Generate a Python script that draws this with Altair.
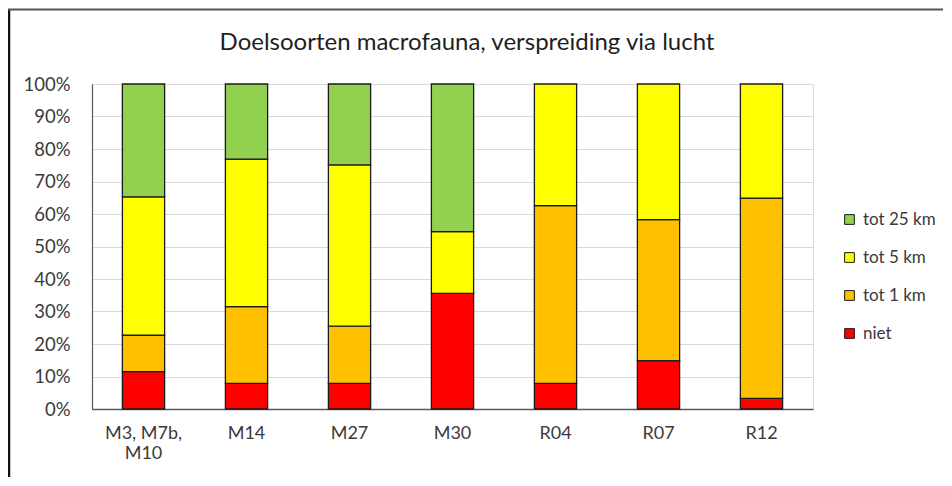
import altair as alt
import pandas as pd

categories = ["M3, M7b, M10", "M14", "M27", "M30", "R04", "R07", "R12"]
series = ["tot 25 km", "tot 5 km", "tot 1 km", "niet"]
niet = [11.5, 7.9, 7.9, 35.6, 7.9, 14.9, 3.3]
tot_1km = [11.2, 23.6, 17.6, 0.0, 54.7, 43.4, 61.6]
tot_5km = [42.6, 45.4, 49.6, 19.0, 37.4, 41.7, 35.1]
tot_25km = [34.7, 23.1, 24.9, 45.4, 0.0, 0.0, 0.0]
colors = ["#92D050", "#FFFF00", "#FFC000", "#FF0000"]
y_ticks = [0, 0.1, 0.2, 0.3, 0.4, 0.5, 0.6, 0.7, 0.8, 0.9, 1.0]
title_text = "Doelsoorten macrofauna, verspreiding via lucht"

rows = []
for i, c in enumerate(categories):
    for s, vals, rank in [("niet", niet, 0), ("tot 1 km", tot_1km, 1),
                          ("tot 5 km", tot_5km, 2), ("tot 25 km", tot_25km, 3)]:
        rows.append({"cat": c, "series": s, "value": vals[i] / 100.0, "rank": rank})
df = pd.DataFrame(rows)

FONT = "Lato"

bars = alt.Chart(df).transform_filter("datum.value > 0").mark_bar(
    stroke="#1a1a1a", strokeWidth=1.3
).encode(
    x=alt.X("cat:N", sort=categories, title=None,
            scale=alt.Scale(paddingInner=0.59, paddingOuter=0.295),
            axis=alt.Axis(labelAngle=0, labelFontSize=18, labelFont=FONT,
                          labelColor="#3a3a3a", labelPadding=15, ticks=False,
                          domainColor="#595959", domainWidth=1.5,
                          labelLineHeight=20,
                          labelExpr="length(datum.label) > 6 ? [slice(datum.label, 0, 8), slice(datum.label, 9)] : datum.label")),
    y=alt.Y("value:Q", stack="zero", title=None,
            scale=alt.Scale(domain=[0, 1]),
            axis=alt.Axis(values=y_ticks, format=".0%", labelFontSize=18.5,
                          labelFont=FONT, labelColor="#3a3a3a", labelPadding=22,
                          ticks=False, domainColor="#595959", domainWidth=1.2,
                          grid=True, gridColor="#D9D9D9", gridWidth=1.2)),
    color=alt.Color("series:N", scale=alt.Scale(domain=series, range=colors),
                    legend=alt.Legend(title=None, orient="none", legendX=749,
                                      legendY=127, labelFontSize=17, labelFont=FONT,
                                      labelColor="#3a3a3a", symbolType="square",
                                      symbolSize=95, symbolStrokeColor="#1a1a1a",
                                      symbolStrokeWidth=1, labelOffset=5,
                                      rowPadding=20, padding=0)),
    order=alt.Order("rank:Q"),
)

title = alt.Chart(pd.DataFrame({"t": [title_text]})).mark_text(
    font=FONT, fontSize=24, color="#1f1f1f", align="center", baseline="alphabetic"
).encode(x=alt.value(375), y=alt.value(-34), text="t:N")

left_frame = alt.Chart(pd.DataFrame({"a": [0]})).mark_rule(
    color="#111111", strokeWidth=2.5
).encode(x=alt.value(-83), y=alt.value(-75), y2=alt.value(400))

top_frame = alt.Chart(pd.DataFrame({"a": [0]})).mark_rule(
    color="#555555", strokeWidth=2.2
).encode(x=alt.value(-84), x2=alt.value(860), y=alt.value(-74.5))

chart = alt.layer(bars, title, left_frame, top_frame).properties(
    width=721, height=325,
    autosize=alt.AutoSizeParams(type="none"),
    padding={"left": 84, "top": 76, "right": 130, "bottom": 68},
).configure_view(stroke=None).configure(background="white")

chart.save("out.html", embed_options={"renderer": "svg", "actions": False})
